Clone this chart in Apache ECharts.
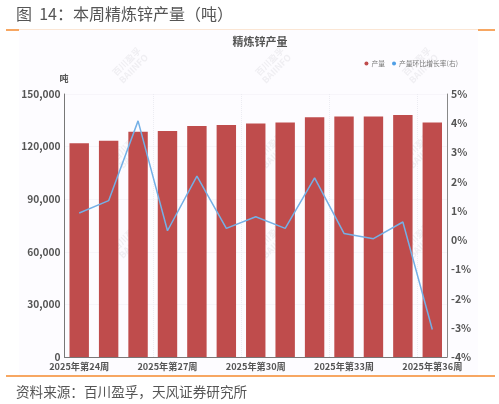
<!DOCTYPE html>
<html><head><meta charset="utf-8">
<style>html,body{margin:0;padding:0;background:#fff}#c{width:499px;height:404px;filter:blur(0.35px)}</style>
<script src="https://cdn.jsdelivr.net/npm/echarts@6/dist/echarts.min.js"></script>
</head><body><div id="c"></div>
<script>
const categories = ['2025年第24周','2025年第25周','2025年第26周','2025年第27周','2025年第28周','2025年第29周','2025年第30周','2025年第31周','2025年第32周','2025年第33周','2025年第34周','2025年第35周','2025年第36周'];
const output = [121900,123300,128500,128900,131700,132300,133200,133800,136700,137200,137200,138000,133800];
const growth = [0.93,1.35,4.08,0.32,2.19,0.40,0.80,0.40,2.13,0.23,0.05,0.62,-3.06];
const leftTicks = {min:0,max:150000,interval:30000};
const rightTicks = {min:-4,max:5,interval:1};
const font = '"Noto Sans CJK SC","Noto Sans",sans-serif';
const watermarks = [[130,65],[273,65],[420,65],[130,150],[273,150],[420,150],[130,240],[273,240],[420,240]];
const chart = echarts.init(document.getElementById('c'));
const wm = [];
watermarks.forEach(p=>{
  wm.push({type:'text',x:p[0],y:p[1],rotation:Math.PI/4,z:0,silent:true,
    style:{text:'百川盈孚\nBAIINFO',fill:'rgba(120,120,130,0.10)',font:'bold 9px '+font,align:'center',verticalAlign:'middle',lineHeight:10}});
});
chart.setOption({
  animation:false,
  backgroundColor:'#fff',
  title:{text:'精炼锌产量',left:255,top:31,textAlign:'center',textStyle:{fontSize:11,fontWeight:'bold',color:'#555',fontFamily:font}},
  legend:{right:36,top:55,itemWidth:4,itemHeight:4,itemGap:7,icon:'circle',
    textStyle:{fontSize:6.8,color:'#777',fontFamily:font,padding:[0,0,0,-2]},
    itemStyle:{borderWidth:0},
    data:['产量','产量环比增长率(右)']},
  grid:{left:64.5,right:52,top:94,bottom:47,containLabel:false},
  graphic:[
    {type:'rect',z:-1,silent:true,shape:{x:19,y:30,width:459,height:346},style:{fill:'#fdfcff'}},
    ...wm,
    {type:'line',silent:true,shape:{x1:19,y1:29.5,x2:478,y2:29.5},style:{stroke:'#fbe6d4',lineWidth:1}},
    {type:'line',silent:true,shape:{x1:6,y1:30,x2:19,y2:30},style:{stroke:'#f58a2e',lineWidth:1.5}},
    {type:'line',silent:true,shape:{x1:478,y1:30,x2:495,y2:30},style:{stroke:'#f58a2e',lineWidth:1.5}},
    {type:'line',silent:true,shape:{x1:6,y1:376,x2:495,y2:376},style:{stroke:'#f58a2e',lineWidth:1.5}},
    {type:'text',silent:true,x:16,y:14,style:{text:'图  14：本周精炼锌产量（吨）',fill:'#555',font:'16px '+font,verticalAlign:'middle'}},
    {type:'text',silent:true,x:16,y:392,style:{text:'资料来源：百川盈孚，天风证券研究所',fill:'#555',font:'13.6px '+font,verticalAlign:'middle'}},
    {type:'text',silent:true,x:64,y:79,style:{text:'吨',fill:'#555',font:'bold 9px '+font,align:'center',verticalAlign:'middle'}}
  ],
  xAxis:{type:'category',data:categories,
    axisTick:{show:false},
    axisLine:{lineStyle:{color:'#777',width:1}},
    axisLabel:{interval:2,fontSize:9.2,color:'#555',margin:5,fontFamily:font,fontWeight:'bold',hideOverlap:false},
    splitLine:{show:true,interval:2,lineStyle:{color:'#ececf2',type:'dotted'}}},
  yAxis:[
    {type:'value',...leftTicks,
      axisLine:{show:true,lineStyle:{color:'#777',width:1}},axisTick:{show:false},
      axisLabel:{fontSize:10.2,color:'#555',margin:4,fontFamily:font,fontWeight:'bold',formatter:v=>v.toLocaleString('en-US')},
      splitLine:{show:true,lineStyle:{color:'#f0eff4',type:'dotted'}}},
    {type:'value',...rightTicks,position:'right',
      axisLine:{show:true,lineStyle:{color:'#888',width:1}},axisTick:{show:false},
      axisLabel:{fontSize:10.5,color:'#555',margin:4,fontFamily:font,fontWeight:'bold',formatter:v=>v+'%'},
      splitLine:{show:false}}
  ],
  series:[
    {name:'产量',type:'bar',data:output,barWidth:'66%',itemStyle:{color:'#bf4c4c'}},
    {name:'产量环比增长率(右)',type:'line',yAxisIndex:1,data:growth,symbol:'none',z:3,itemStyle:{color:'#4f9fe6'},lineStyle:{color:'#74b0e6',width:1.5}}
  ]
});
</script></body></html>
